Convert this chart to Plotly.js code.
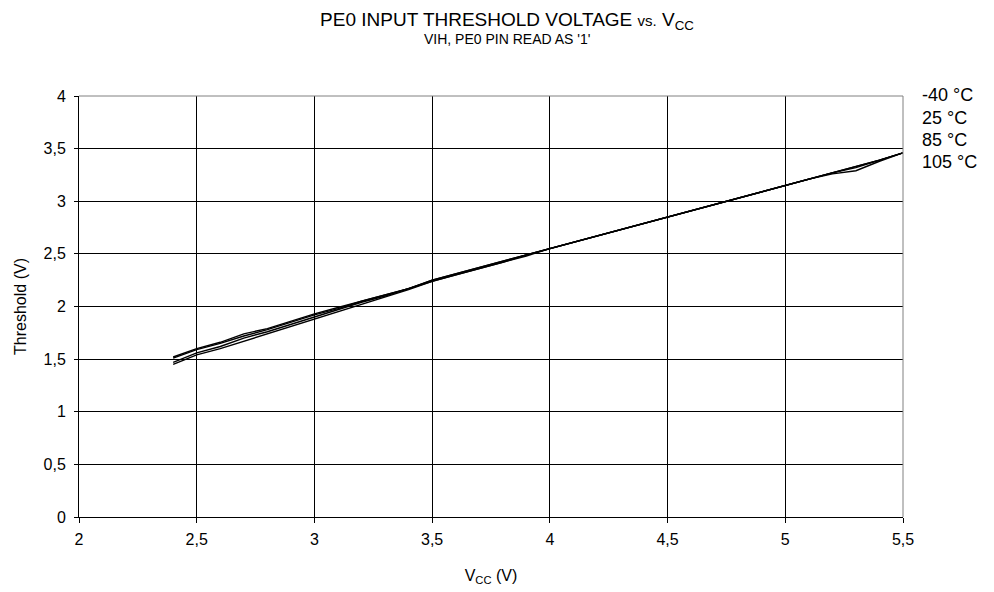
<!DOCTYPE html>
<html>
<head>
<meta charset="utf-8">
<script src="https://cdn.plot.ly/plotly-3.0.1.min.js"></script>
<style>html,body{margin:0;padding:0;background:#fff;}#chart{width:994px;height:592px;}</style>
</head>
<body>
<div id="chart"></div>
<script>
// Supply voltage (V)
const vcc = [2.4,2.5,2.6,2.7,2.8,2.9,3.0,3.1,3.2,3.3,3.4,3.5,3.6,3.7,3.8,3.9,4.0,4.1,4.2,4.3,4.4,4.5,4.6,4.7,4.8,4.9,5.0,5.1,5.2,5.3,5.4,5.5];
// Threshold (V) per temperature
const tM40 = [1.52,1.60,1.66,1.74,1.79,1.86,1.93,1.99,2.05,2.11,2.17,2.25,2.31,2.37,2.43,2.49,2.55,2.61,2.67,2.73,2.79,2.85,2.91,2.97,3.03,3.09,3.15,3.21,3.27,3.33,3.39,3.46];
const t25  = [1.51,1.59,1.65,1.72,1.78,1.85,1.92,1.98,2.05,2.11,2.17,2.25,2.31,2.37,2.43,2.49,2.55,2.61,2.67,2.73,2.79,2.85,2.91,2.97,3.03,3.09,3.15,3.21,3.27,3.33,3.39,3.46];
const t85  = [1.47,1.56,1.62,1.70,1.76,1.83,1.90,1.97,2.04,2.10,2.17,2.24,2.30,2.36,2.42,2.49,2.55,2.61,2.67,2.73,2.79,2.85,2.91,2.97,3.03,3.09,3.15,3.21,3.27,3.32,3.39,3.46];
const t105 = [1.45,1.54,1.60,1.67,1.74,1.81,1.88,1.95,2.02,2.09,2.16,2.24,2.30,2.36,2.42,2.48,2.55,2.61,2.67,2.73,2.79,2.85,2.91,2.97,3.03,3.09,3.15,3.21,3.26,3.29,3.38,3.46];
const seriesNames = ['-40 °C','25 °C','85 °C','105 °C'];
const seriesData = [tM40, t25, t85, t105];
const xTicks = [2,2.5,3,3.5,4,4.5,5,5.5];
const yTicks = [0,0.5,1,1.5,2,2.5,3,3.5,4];

const FONT = 'Liberation Sans, Arial, sans-serif';
const traces = seriesData.map((ys, i) => ({
  x: vcc, y: ys, name: seriesNames[i], type: 'scatter', mode: 'lines',
  line: {color: '#000000', width: 1.4}, showlegend: false
}));

const legendY = [95.3, 117.8, 140, 162.2];
const annotations = seriesNames.map((n, i) => ({
  text: n, xref: 'paper', yref: 'paper', x: (920-79)/(903-79), xanchor: 'left',
  y: 1 - (legendY[i]-96)/(517.5-96), yanchor: 'middle', showarrow: false,
  font: {family: FONT, size: 18, color: '#000'}
}));
annotations.push({
  text: "VIH, PE0 PIN READ AS '1'", xref: 'paper', yref: 'paper',
  x: (507-79)/(903-79), xanchor: 'center', y: 1 + (96-39)/(517.5-96), yanchor: 'middle',
  showarrow: false, font: {family: FONT, size: 14, color: '#000'}
});

const layout = {
  width: 994, height: 592,
  margin: {l: 79, r: 91, t: 96, b: 74.5},
  paper_bgcolor: '#fff', plot_bgcolor: '#fff',
  separators: ', ',
  font: {family: FONT, size: 16, color: '#000'},
  title: {text: 'PE0 INPUT THRESHOLD VOLTAGE <span style="font-size:15px">vs.</span> V<sub>CC</sub>',
          xref: 'container', x: 507/994, xanchor: 'center',
          yref: 'container', y: 1 - 19/592, yanchor: 'middle',
          font: {family: FONT, size: 19, color: '#000'}},
  xaxis: {range: [2, 5.5], tickvals: xTicks, ticktext: xTicks.map(v => String(v).replace('.', ',')),
          showgrid: true, gridcolor: '#000', gridwidth: 1, zeroline: false,
          showline: true, linecolor: '#000', linewidth: 1, mirror: false,
          ticks: 'outside', ticklen: 5, tickcolor: '#000', ticklabelstandoff: 3,
          tickfont: {family: FONT, size: 16}, fixedrange: true, automargin: false,
          title: {text: 'V<sub>CC</sub> (V)', font: {family: FONT, size: 16}, standoff: 22}},
  yaxis: {range: [0, 4], tickvals: yTicks, ticktext: yTicks.map(v => String(v).replace('.', ',')),
          showgrid: true, gridcolor: '#000', gridwidth: 1, zeroline: false,
          showline: true, linecolor: '#000', linewidth: 1,
          ticks: 'outside', ticklen: 4, tickcolor: '#000', ticklabelstandoff: 5,
          tickfont: {family: FONT, size: 16}, fixedrange: true, automargin: false,
          title: {text: 'Threshold (V)', font: {family: FONT, size: 16}, standoff: 12}},
  shapes: [
    {type: 'line', xref: 'paper', yref: 'paper', x0: 0, x1: 1, y0: 1, y1: 1, line: {color: '#808080', width: 1}},
    {type: 'line', xref: 'paper', yref: 'paper', x0: 1, x1: 1, y0: 0, y1: 1, line: {color: '#808080', width: 1}}
  ],
  annotations: annotations
};

Plotly.newPlot('chart', traces, layout, {displayModeBar: false, staticPlot: true});
</script>
</body>
</html>
